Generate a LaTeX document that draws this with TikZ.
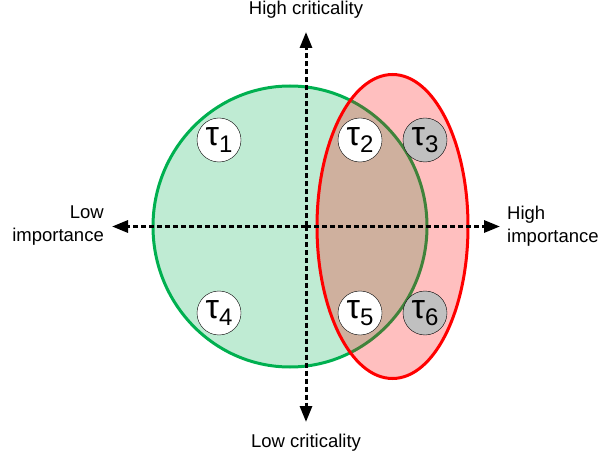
\documentclass[tikz,border=0pt]{standalone}
\usepackage{fontspec}
\setmainfont{Liberation Sans}
\usetikzlibrary{arrows.meta}
\definecolor{setgreen}{RGB}{0,176,80}
\definecolor{setred}{RGB}{255,0,0}
\definecolor{taskgray}{RGB}{192,192,192}
\tikzset{
  task/.style={circle, draw, thin, fill=white, minimum size=44pt, inner sep=0pt},
  axisline/.style={line width=3pt, dash pattern=on 5pt off 3pt},
  tip/.style={-{Triangle[length=16pt,width=12pt]}},
  lbl/.style={font=\fontsize{18.5}{23}\selectfont, inner sep=0pt}
}
\newcommand{\tsk}[1]{{\fontsize{34}{34}\selectfont τ}\raisebox{-7pt}{\fontsize{24}{24}\selectfont #1}}
\begin{document}
\begin{tikzpicture}[x=1pt, y=-1pt]
\useasboundingbox (0,0) rectangle (610,454);
%sets
\draw[line width=3pt, setgreen, fill=setgreen, fill opacity=0.25, draw opacity=1] (290,226.5) ellipse [x radius=137, y radius=140.5];
\draw[line width=3pt, setred, fill=setred, fill opacity=0.25, draw opacity=1] (392.5,226.5) ellipse [x radius=75.5, y radius=152];
%assi
\coordinate (o) at (306,226.5);
\coordinate (n) at (306,32);
\coordinate (s) at (306,422);
\coordinate (w) at (112,226.5);
\coordinate (e) at (500,226.5);
\draw[axisline, tip] (o) -- (n);
\draw[axisline, tip] (o) -- (s);
\draw[axisline, tip] (o) -- (w);
\draw[axisline, tip] (o) -- (e);
\node[lbl] (hc) at (306,10) {High criticality};
\node[lbl] (lc) at (306,443) {Low criticality};
\node[lbl, anchor=east, align=right] (li) at (104,226) {Low\\importance};
\node[lbl, anchor=west, align=left] (hi) at (507,226) {High\\importance};
%task
\node[task] (t1) at (219,140) {\tsk{1}};
\node[task] (t2) at (360,140) {\tsk{2}};
\node[task, fill=taskgray] (t3) at (425,140) {\tsk{3}};
\node[task] (t4) at (219,313) {\tsk{4}};
\node[task] (t5) at (360,313) {\tsk{5}};
\node[task, fill=taskgray] (t6) at (425,313) {\tsk{6}};
\end{tikzpicture}
\end{document}
